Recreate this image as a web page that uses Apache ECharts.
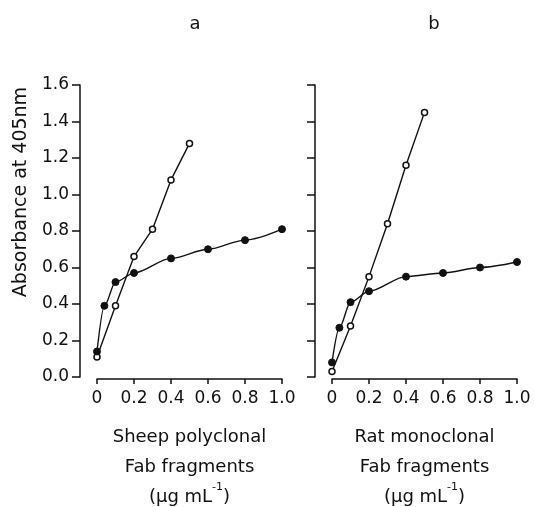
<!DOCTYPE html>
<html>
<head>
<meta charset="utf-8">
<script src="https://cdn.jsdelivr.net/npm/echarts@6/dist/echarts.min.js"></script>
<style>html,body{margin:0;padding:0;background:#fff}#c{width:534px;height:507px}</style>
</head>
<body>
<div id="c"></div>
<script>
// ---- data ----
var panelTitles = ['a', 'b'];
var xNames = ['Sheep polyclonal\nFab fragments\n(μg mL{sup|-1})', 'Rat monoclonal\nFab fragments\n(μg mL{sup|-1})'];
var yName = 'Absorbance at 405nm';

var sheepOpenX = [0, 0.1, 0.2, 0.3, 0.4, 0.5];
var sheepOpenY = [0.11, 0.39, 0.66, 0.81, 1.08, 1.28];
var sheepFilledX = [0, 0.04, 0.1, 0.2, 0.4, 0.6, 0.8, 1.0];
var sheepFilledY = [0.14, 0.39, 0.52, 0.57, 0.65, 0.70, 0.75, 0.81];

var ratOpenX = [0, 0.1, 0.2, 0.3, 0.4, 0.5];
var ratOpenY = [0.03, 0.28, 0.55, 0.84, 1.16, 1.45];
var ratFilledX = [0, 0.04, 0.1, 0.2, 0.4, 0.6, 0.8, 1.0];
var ratFilledY = [0.08, 0.27, 0.41, 0.47, 0.55, 0.57, 0.60, 0.63];

function pairs(xs, ys) { return xs.map(function (x, i) { return [x, ys[i]]; }); }

var FONT = 'DejaVu Sans';
var INK = '#111';

function xAxisFor(idx) {
  return {
    type: 'value', gridIndex: idx, min: 0, max: 1, interval: 0.2, offset: 2,
    axisLine: { show: true, onZero: false, lineStyle: { color: INK, width: 1.5 } },
    axisTick: { show: true, length: 5, lineStyle: { color: INK, width: 1.5 } },
    axisLabel: { color: INK, fontFamily: FONT, fontSize: 17, margin: 11,
      formatter: function (v) { return v === 0 ? '0' : v.toFixed(1); } },
    splitLine: { show: false },
    name: xNames[idx], nameLocation: 'middle', nameGap: 43,
    nameTextStyle: { color: INK, fontFamily: FONT, fontSize: 18, lineHeight: 30,
      rich: { sup: { fontSize: 11, verticalAlign: 'top', lineHeight: 30, padding: [0, 0, 8, 0], fontFamily: FONT, color: INK } } }
  };
}
function yAxisFor(idx) {
  return {
    type: 'value', gridIndex: idx, min: 0, max: 1.6, interval: 0.2, offset: 17,
    axisLine: { show: true, onZero: false, lineStyle: { color: INK, width: 1.5 } },
    axisTick: { show: true, length: 8, lineStyle: { color: INK, width: 1.5 } },
    axisLabel: { show: idx === 0, color: INK, fontFamily: FONT, fontSize: 17, margin: 11,
      formatter: function (v) { return v.toFixed(1); } },
    splitLine: { show: false }
  };
}
function openSeries(idx, data) {
  return { type: 'line', xAxisIndex: idx, yAxisIndex: idx, data: data,
    symbol: 'circle', symbolSize: 6, showAllSymbol: true,
    lineStyle: { color: INK, width: 1.4 },
    itemStyle: { color: '#fff', borderColor: INK, borderWidth: 1.5 }, z: 3 };
}
function filledSeries(idx, data) {
  return { type: 'line', xAxisIndex: idx, yAxisIndex: idx, data: data,
    smooth: 0.3, smoothMonotone: 'x',
    symbol: 'circle', symbolSize: 7, showAllSymbol: true,
    lineStyle: { color: INK, width: 1.4 },
    itemStyle: { color: INK, borderColor: INK, borderWidth: 1 }, z: 4 };
}

var chart = echarts.init(document.getElementById('c'), null, { renderer: 'canvas' });
chart.setOption({
  backgroundColor: '#fff',
  animation: false,
  title: [
    { text: panelTitles[0], left: 190, top: 10, textAlign: 'center', textStyle: { fontFamily: FONT, fontSize: 18, fontWeight: 'normal', color: INK } },
    { text: panelTitles[1], left: 429, top: 10, textAlign: 'center', textStyle: { fontFamily: FONT, fontSize: 18, fontWeight: 'normal', color: INK } }
  ],
  grid: [
    { left: 97, width: 185, top: 85, height: 292, containLabel: false, outerBoundsMode: 'none' },
    { left: 332, width: 185, top: 85, height: 292, containLabel: false, outerBoundsMode: 'none' }
  ],
  xAxis: [xAxisFor(0), xAxisFor(1)],
  yAxis: [yAxisFor(0), yAxisFor(1)],
  graphic: [
    { type: 'text', x: 21, y: 192, rotation: Math.PI / 2,
      style: { text: yName, align: 'center', verticalAlign: 'middle', fontFamily: FONT, fontSize: 19, fill: INK } }
  ],
  series: [
    openSeries(0, pairs(sheepOpenX, sheepOpenY)),
    filledSeries(0, pairs(sheepFilledX, sheepFilledY)),
    openSeries(1, pairs(ratOpenX, ratOpenY)),
    filledSeries(1, pairs(ratFilledX, ratFilledY))
  ]
});
</script>
</body>
</html>
